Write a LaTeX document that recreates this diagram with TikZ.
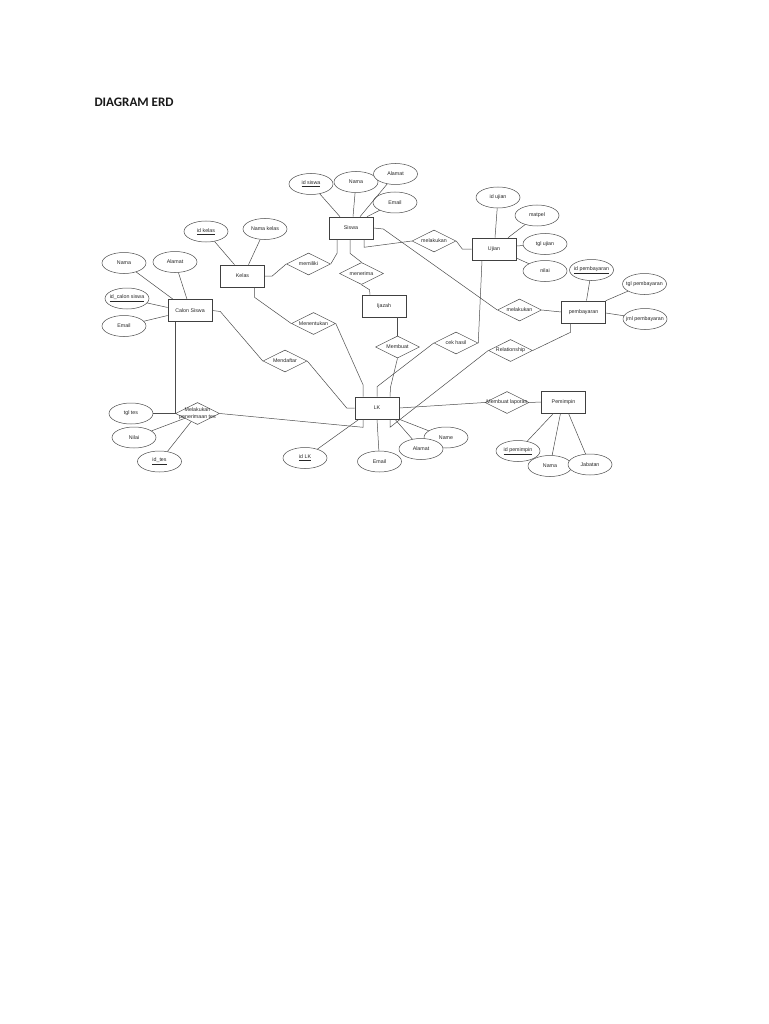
\documentclass[tikz,border=0pt]{standalone}
\usepackage{fontspec}
\setmainfont{Liberation Sans}
\newfontfamily\titlefont{Carlito}
\usetikzlibrary{shapes.geometric}
\newcommand\rt[1]{\makebox[0pt]{#1}}
\begin{document}
\begin{tikzpicture}[x=1pt,y=-1pt,
  every node/.style={font=\fontsize{5.3}{6}\selectfont, text=black!85},
  ent/.style={draw=black!75, fill=white, line width=0.6pt, rectangle, minimum width=44pt, minimum height=22pt, inner sep=0pt},
  attr/.style={draw=black!70, fill=white, line width=0.5pt, ellipse, minimum width=44pt, minimum height=21pt, inner sep=0pt},
  rel/.style={draw=black!70, fill=white, line width=0.5pt, diamond, aspect=2, minimum width=44pt, minimum height=22pt, inner sep=0pt},
  conn/.style={draw=black!70, line width=0.5pt}]
\fill[white] (0,0) rectangle (768,1024);
\useasboundingbox (0,0) rectangle (768,1024);

\node[anchor=base west, font=\titlefont\bfseries\fontsize{13}{15}\selectfont, text=black!90] (title) at (91,107) {DIAGRAM ERD};

% entities
\node[ent] (siswa) at (351,228) {\rt{Siswa}};
\node[ent] (kelas) at (242.5,276) {\rt{Kelas}};
\node[ent] (calon) at (190,310.5) {\rt{Calon Siswa}};
\node[ent] (ijazah) at (384,306) {\rt{Ijazah}};
\node[ent] (ujian) at (494,249) {\rt{Ujian}};
\node[ent] (pemb) at (583.5,312) {\rt{pembayaran}};
\node[ent] (lk) at (377,408) {\rt{LK}};
\node[ent] (pemimpin) at (563.5,402) {\rt{Pemimpin}};

% relationships
\node[rel] (memiliki) at (308.5,264) {\rt{memiliki}};
\node[rel] (menerima) at (361.5,273.5) {\rt{menerima}};
\node[rel] (melakukanA) at (434,241) {\rt{melakukan}};
\node[rel] (menentukan) at (313.5,323.5) {\rt{Menentukan}};
\node[rel] (mendaftar) at (285,361) {\rt{Mendaftar}};
\node[rel] (membuat) at (397.5,347) {\rt{Membuat}};
\node[rel] (cekhasil) at (456,343) {\rt{cek hasil}};
\node[rel] (melakukanB) at (519.5,310) {\rt{melakukan}};
\node[rel] (relationship) at (510.5,350.5) {\rt{Relationship}};
\node[rel] (laporan) at (507,402.5) {\rt{Membuat laporan}};
\node[rel] (melakukanC) at (197.5,413.5) {\rt{\shortstack{Melakukan\\penerimaan tes}}};

% attributes
\node[attr] (idsiswa) at (311,184) {\rt{\underline{id siswa}}};
\node[attr] (namasiswa) at (356,182) {\rt{Nama}};
\node[attr] (alamatsiswa) at (395.5,174) {\rt{Alamat}};
\node[attr] (emailsiswa) at (395,202.5) {\rt{Email}};
\node[attr] (idkelas) at (206,231.5) {\rt{\underline{id kelas}}};
\node[attr] (namakelas) at (265,229) {\rt{Nama kelas}};
\node[attr] (namacs) at (124,263) {\rt{Nama}};
\node[attr] (alamatcs) at (175,262) {\rt{Alamat}};
\node[attr] (idcs) at (127,298.5) {\rt{\underline{id\_calon siswa}}};
\node[attr] (emailcs) at (124,326) {\rt{Email}};
\node[attr] (idujian) at (498,197.5) {\rt{id ujian}};
\node[attr] (matpel) at (537,215.5) {\rt{matpel}};
\node[attr] (tglujian) at (545,244) {\rt{tgl ujian}};
\node[attr] (nilaiujian) at (545,271) {\rt{nilai}};
\node[attr] (idpemb) at (591.5,270) {\rt{\underline{id pembayaran}}};
\node[attr] (tglpemb) at (644.5,284) {\rt{tgl pembayaran}};
\node[attr] (jmlpemb) at (645,319) {\rt{jml pembayaran}};
\node[attr] (idlk) at (305,458) {\rt{\underline{id LK}}};
\node[attr] (emaillk) at (379.5,461.5) {\rt{Email}};
\node[attr] (namelk) at (446,437.5) {\rt{Name}};
\node[attr] (alamatlk) at (421,449) {\rt{Alamat}};
\node[attr] (idpem) at (518,451) {\rt{\underline{id pemimpin}}};
\node[attr] (namapem) at (550,466) {\rt{Nama}};
\node[attr] (jabatan) at (590,464.5) {\rt{Jabatan}};
\node[attr] (tgltes) at (131,413.5) {\rt{tgl tes}};
\node[attr] (nilaites) at (134,437.5) {\rt{Nilai}};
\node[attr] (idtes) at (159.5,461.5) {\rt{\underline{id\_tes}}};

% connectors: Siswa
\draw[conn] (idsiswa) -- ([xshift=-11pt]siswa.north);
\draw[conn] (namasiswa) -- ([xshift=2pt]siswa.north);
\draw[conn] (alamatsiswa) -- ([xshift=9pt]siswa.north);
\draw[conn] (emailsiswa) -- ([xshift=16pt]siswa.north);
\draw[conn] ([xshift=-14pt]siswa.south) -- ++(0,14) -- (memiliki.east);
\draw[conn] (memiliki.west) -- ++(-14,12) -- (kelas.east);
\draw[conn] ([xshift=-1pt]siswa.south) -- ++(0,14) -- (menerima.north);
\draw[conn] (menerima.south) -- ++(8,5) -- ([xshift=-14pt]ijazah.north);
\draw[conn] (ijazah.south -| membuat.north) -- (membuat.north);
\draw[conn] (membuat.south) -- ++(-7,29) -- ([xshift=13pt]lk.north);
\draw[conn] (cekhasil.west) -- ([yshift=10pt]lk.north) -- (lk.north);
\draw[conn] ([xshift=-12pt]ujian.south) -- (cekhasil.east);
\draw[conn] ([xshift=13pt]siswa.south) -- ++(0,8) -- (melakukanA.west);
\draw[conn] (melakukanA.east) -- ++(6,8) -- (ujian.west);
\draw[conn] (siswa.east) -- ++(10,1) -- (melakukanB.west);
\draw[conn] (melakukanB.east) -- (pemb.west);
\draw[conn] ([xshift=-13pt]pemb.south) -- ++(0,9) -- (relationship.east);
\draw[conn] (relationship.west) -- ([xshift=13pt,yshift=-8pt]lk.south) -- ([xshift=13pt]lk.south);
\draw[conn] (lk.east) -- (laporan.west);
\draw[conn] (laporan.east) -- (pemimpin.west);

% Pemimpin attributes
\draw[conn] (idpem) -- ([xshift=-10pt]pemimpin.south);
\draw[conn] (namapem) -- ([xshift=-3pt]pemimpin.south);
\draw[conn] (jabatan) -- ([xshift=5pt]pemimpin.south);

% Ujian attributes
\draw[conn] (idujian) -- ([xshift=1pt]ujian.north);
\draw[conn] (matpel) -- ([xshift=14pt]ujian.north);
\draw[conn] (tglujian) -- ([yshift=3pt]ujian.east);
\draw[conn] (nilaiujian) -- ([yshift=-9pt]ujian.east);

% pembayaran attributes
\draw[conn] (idpemb) -- ([xshift=3pt]pemb.north);
\draw[conn] (tglpemb) -- (pemb.north east);
\draw[conn] (jmlpemb) -- ([yshift=-1pt]pemb.east);

% Kelas
\draw[conn] (idkelas) -- ([xshift=-8pt]kelas.north);
\draw[conn] (namakelas) -- ([xshift=6pt]kelas.north);
\draw[conn] ([xshift=12pt]kelas.south) -- ++(0,10) -- (menentukan.west);
\draw[conn] (menentukan.east) -- ([xshift=-14pt,yshift=12pt]lk.north) -- ([xshift=-14pt]lk.north);

% Calon Siswa
\draw[conn] (namacs) -- ([xshift=-17pt]calon.north);
\draw[conn] (alamatcs) -- ([xshift=-3pt]calon.north);
\draw[conn] (idcs) -- ([yshift=3pt]calon.west);
\draw[conn] (emailcs) -- ([yshift=-5pt]calon.west);
\draw[conn] (calon.east) -- ++(8,1) -- (mendaftar.west);
\draw[conn] (mendaftar.east) -- ([xshift=-8pt]lk.west) -- (lk.west);
\draw[conn] (calon.south -| melakukanC.west) -- (melakukanC.west);
\draw[conn] (melakukanC.east) -- ([xshift=-14pt,yshift=-8pt]lk.south) -- ([xshift=-14pt]lk.south);

% Melakukan (tes) attributes
\draw[conn] (tgltes) -- (melakukanC.west);
\draw[conn] (nilaites) -- (melakukanC);
\draw[conn] (idtes) -- (melakukanC);

% LK attributes
\draw[conn] (idlk) -- ([xshift=-18pt]lk.south);
\draw[conn] (emaillk) -- (lk.south);
\draw[conn] (alamatlk) -- ([xshift=18pt]lk.south);
\draw[conn] (namelk) -- (lk.south east);
\end{tikzpicture}
\end{document}
